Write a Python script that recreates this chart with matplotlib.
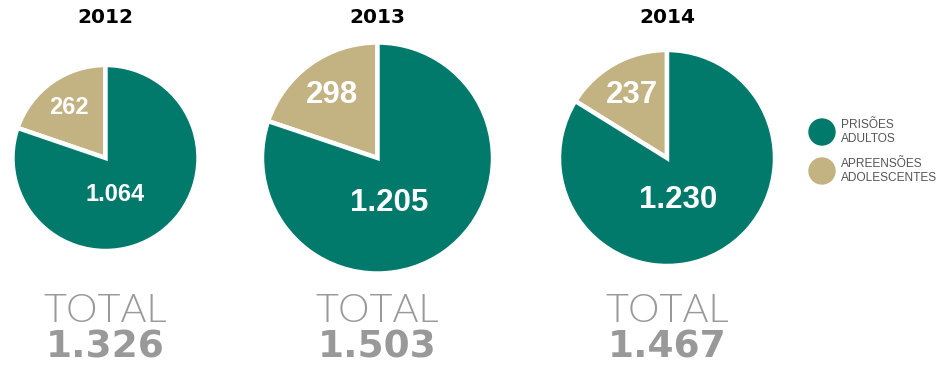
import numpy as np
import matplotlib.pyplot as plt
from matplotlib.patches import Circle

years = ['2012', '2013', '2014']
adultos = [1064, 1205, 1230]
adolescentes = [262, 298, 237]
legend_labels = ['PRISÕES\nADULTOS', 'APREENSÕES\nADOLESCENTES']

GREEN = '#017a6b'
TAN = '#c3b282'
W, H = 940, 374

# pie centres / radii in pixels (image coords, y down)
centers = [(105.5, 158), (377.5, 158), (667, 158)]
radii = [93, 115.5, 108]
label_sizes = [17, 22.5, 22.5]


def fmt(n):
    return f'{n:,}'.replace(',', '.')


def draw():
    fig = plt.figure(figsize=(W / 100, H / 100), dpi=100)
    ax = fig.add_axes([0, 0, 1, 1])

    for i, year in enumerate(years):
        cx, cy = centers[i]
        cy = H - cy
        r = radii[i]
        ax.pie([adolescentes[i], adultos[i]], colors=[TAN, GREEN],
               startangle=90, counterclock=True, center=(cx, cy), radius=r,
               wedgeprops=dict(edgecolor='white', linewidth=3.2))
        frac = adolescentes[i] / (adolescentes[i] + adultos[i])
        ang = np.deg2rad(90 + 360 * frac / 2)
        d = 0.67 * r
        ax.text(cx + d * np.cos(ang), cy + d * np.sin(ang), fmt(adolescentes[i]),
                color='white', fontsize=label_sizes[i], fontweight='bold',
                family='Liberation Sans', ha='center', va='center')
        ax.text(cx + 0.1 * r, cy - 0.39 * r, fmt(adultos[i]),
                color='white', fontsize=label_sizes[i], fontweight='bold',
                family='Liberation Sans', ha='center', va='center')

        ax.text(cx, H - 17, year, fontsize=14.5, fontweight='heavy',
                family='DejaVu Sans', ha='center', va='center', color='black')
        ax.text(cx, H - 311, 'TOTAL', fontsize=28.5, fontweight=300,
                family='Lato', ha='center', va='center', color='#999999')
        ax.text(cx, H - 348, fmt(adultos[i] + adolescentes[i]), fontsize=27,
                fontweight='heavy', family='DejaVu Sans', ha='center',
                va='center', color='#999999')

    # legend
    for j, (lab, col) in enumerate(zip(legend_labels, [GREEN, TAN])):
        ly = H - (132 + 39 * j)
        ax.add_patch(Circle((822, ly), 13, color=col))
        ax.text(841, ly, lab, fontsize=8.6, family='Liberation Sans',
                color='#555555', ha='left', va='center', linespacing=1.3)

    ax.set_xlim(0, W)
    ax.set_ylim(0, H)
    ax.set_aspect('equal')
    ax.axis('off')
    fig.savefig('out.png', dpi=100)


if __name__ == '__main__':
    draw()
